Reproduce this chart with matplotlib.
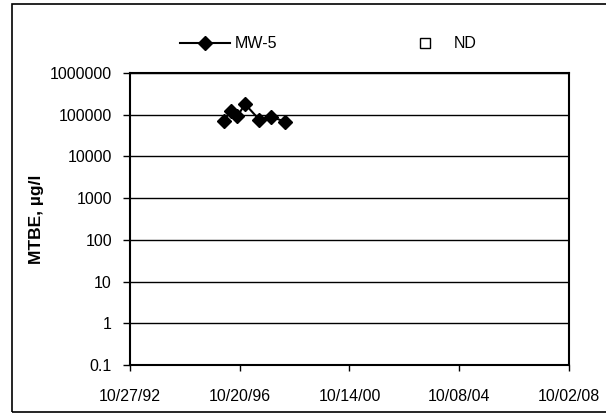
import datetime as dt
import matplotlib
matplotlib.use('Agg')
import matplotlib.pyplot as plt
import matplotlib.dates as mdates
from matplotlib.lines import Line2D

plt.rcParams['font.family'] = ['Liberation Sans', 'DejaVu Sans']

# MW-5 MTBE results
sample_dates = ['03/26/96', '06/23/96', '09/19/96', '12/30/96', '07/07/97', '12/06/97', '06/13/98']
mtbe = [72000, 125000, 92000, 180000, 76000, 90000, 68000]
# non-detects: none plotted
nd_dates = []
nd_vals = []

tick_dates = ['10/27/92', '10/20/96', '10/14/00', '10/08/04', '10/02/08']
y_ticks = [0.1, 1, 10, 100, 1000, 10000, 100000, 1000000]
y_labels = ['0.1', '1', '10', '100', '1000', '10000', '100000', '1000000']


def to_dates(lst):
    return [dt.datetime.strptime(s, '%m/%d/%y') for s in lst]


fig = plt.figure(figsize=(6.06, 4.17), dpi=100)
ax = fig.add_axes([130 / 606, 1 - 365 / 417, 439 / 606, 292 / 417])

ax.plot(to_dates(sample_dates), mtbe, color='black', lw=1.5, marker='D', ms=7.5, zorder=3)
ax.plot(to_dates(nd_dates), nd_vals, ls='none', marker='s', mfc='white', mec='black', ms=7)

ax.set_yscale('log')
ax.set_ylim(0.1, 1000000)
ax.set_yticks(y_ticks)
ax.set_yticklabels(y_labels)
ax.yaxis.set_minor_locator(matplotlib.ticker.NullLocator())
ax.grid(axis='y', which='major', color='black', lw=1)

xt = to_dates(tick_dates)
ax.set_xlim(xt[0], xt[-1])
ax.set_xticks(xt)
ax.xaxis.set_major_formatter(mdates.DateFormatter('%m/%d/%y'))

for sp in ax.spines.values():
    sp.set_linewidth(1.5)
ax.tick_params(axis='y', direction='out', length=5, width=1, pad=8, labelsize=11.5)
ax.tick_params(axis='x', direction='out', length=4, width=1, pad=13, labelsize=11.5)
ax.set_ylabel('MTBE, µg/l', fontsize=12.5, fontweight='bold', labelpad=4)

handles = [Line2D([], [], color='black', lw=1.5, marker='D', ms=7.5),
           Line2D([], [], ls='none', marker='s', mfc='white', mec='black', ms=7)]
fig.legend(handles, ['MW-5', 'ND'], loc='center left', bbox_to_anchor=(180 / 606, 1 - 44 / 417),
           ncol=2, frameon=False, fontsize=11.5, borderpad=0, borderaxespad=0,
           handlelength=3.1, handletextpad=0.3, columnspacing=7.7)

# outer chart border
fig.add_artist(plt.Rectangle((12 / 606, 1 - 412 / 417), 600 / 606, 408 / 417,
                             transform=fig.transFigure, fill=False, ec='black', lw=1.2))

plt.savefig('out.png', dpi=100)
